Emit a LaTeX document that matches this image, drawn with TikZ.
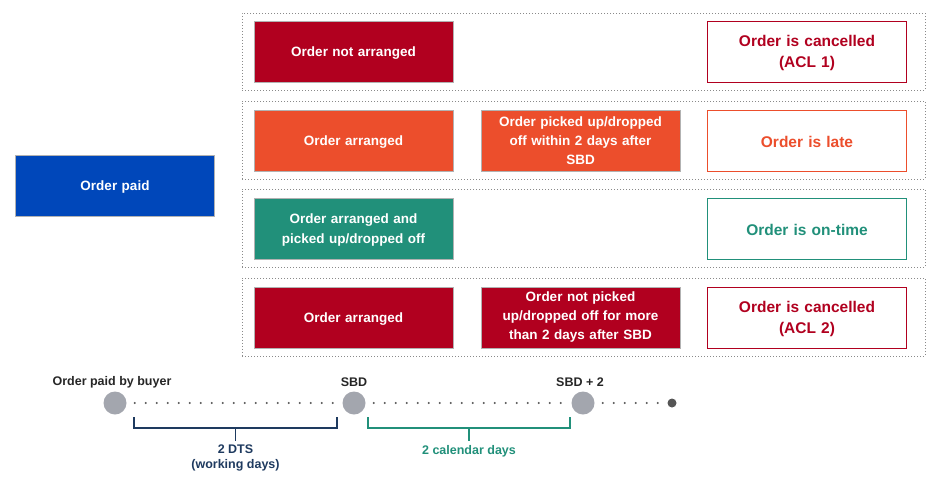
\documentclass[tikz,border=0pt]{standalone}
\usepackage{fontspec}
\setmainfont{Liberation Sans}
\definecolor{cred}{HTML}{B1001F}
\definecolor{corange}{HTML}{EC4E2C}
\definecolor{cteal}{HTML}{21907A}
\definecolor{cblue}{HTML}{0047BA}
\definecolor{cgray}{HTML}{A3A6AE}
\definecolor{cnavy}{HTML}{1E3A5F}
\definecolor{cdots}{HTML}{8A8A8A}
\definecolor{cdark}{HTML}{555555}
\tikzset{
  panel/.style={draw=cdots, line width=0.8pt, dash pattern=on 0.8pt off 2.2pt, minimum width=683pt, minimum height=78pt, inner sep=0pt},
  fbox/.style={fill=#1, draw=gray!60, line width=0.6pt, minimum width=199pt, minimum height=61pt, inner sep=0pt},
  obox/.style={fill=white, draw=#1, line width=1pt, minimum width=199pt, minimum height=61pt, inner sep=0pt},
  ftext/.style={text width=190pt, align=center, text=white, font=\bfseries\fontsize{13.5}{19.5}\selectfont, inner sep=0pt},
  otext/.style={text width=190pt, align=center, text=#1, font=\bfseries\fontsize{15.5}{21}\selectfont, inner sep=0pt},
  tcirc/.style={circle, fill=cgray, minimum size=23pt, inner sep=0pt},
  tlabel/.style={font=\bfseries\fontsize{12.5}{15}\selectfont, text=black!85, inner sep=0pt},
  dotline/.style={cdark, line width=2.3pt, line cap=round, dash pattern=on 0pt off 11pt},
}
\begin{document}
\begin{tikzpicture}[x=1pt, y=-1pt]
\useasboundingbox (0,0) rectangle (937,477);
% panels
\node[panel, minimum height=77pt] (p1) at (583.5,51.5) {};
\node[panel] (p2) at (583.5,140) {};
\node[panel] (p3) at (583.5,228) {};
\node[panel] (p4) at (583.5,317) {};
% order paid
\node[fbox=cblue] (paid) at (115,185.5) {};
\node[ftext] (paidt) at ([yshift=-1.5pt]paid.center) {Order paid};
% row 1
\node[fbox=cred] (r1a) at (353.5,51.5) {};
\node[ftext] (r1at) at ([yshift=-1.5pt]r1a.center) {Order not arranged};
\node[obox=cred] (r1c) at (807,51.5) {};
\node[otext=cred] (r1ct) at ([yshift=-1.5pt]r1c.center) {Order is cancelled\\(ACL 1)};
% row 2
\node[fbox=corange] (r2a) at (353.5,140.5) {};
\node[ftext] (r2at) at ([yshift=-1.5pt]r2a.center) {Order arranged};
\node[fbox=corange] (r2b) at (580.5,140.5) {};
\node[ftext, font=\bfseries\fontsize{13.5}{19}\selectfont] (r2bt) at (r2b.center) {Order picked up/dropped\\off within 2 days after\\SBD};
\node[obox=corange] (r2c) at (807,140.5) {};
\node[otext=corange] (r2ct) at ([yshift=-1.5pt]r2c.center) {Order is late};
% row 3
\node[fbox=cteal] (r3a) at (353.5,228.5) {};
\node[ftext] (r3at) at ([yshift=-1.5pt]r3a.center) {Order arranged and\\picked up/dropped off};
\node[obox=cteal] (r3c) at (807,228.5) {};
\node[otext=cteal] (r3ct) at ([yshift=-1.5pt]r3c.center) {Order is on-time};
% row 4
\node[fbox=cred] (r4a) at (353.5,317.5) {};
\node[ftext] (r4at) at ([yshift=-1.5pt]r4a.center) {Order arranged};
\node[fbox=cred] (r4b) at (580.5,317.5) {};
\node[ftext, font=\bfseries\fontsize{13.5}{19}\selectfont] (r4bt) at (r4b.center) {Order not picked\\up/dropped off for more\\than 2 days after SBD};
\node[obox=cred] (r4c) at (807,317.5) {};
\node[otext=cred] (r4ct) at ([yshift=-1.5pt]r4c.center) {Order is cancelled\\(ACL 2)};
% timeline
\node[tcirc] (t1) at (115,403) {};
\node[tcirc] (t2) at (354,403) {};
\node[tcirc] (t3) at (583,403) {};
\node[circle, fill=cdark, minimum size=9pt, inner sep=0pt] (t4) at (672,403) {};
\draw[dotline] ([xshift=8pt]t1.east) -- ([xshift=-6pt]t2.west);
\draw[dotline] ([xshift=8pt]t2.east) -- ([xshift=-6pt]t3.west);
\draw[dotline] ([xshift=8pt]t3.east) -- ([xshift=-6pt]t4.west);
\node[tlabel] (l1) at (112,382) {Order paid by buyer};
\node[tlabel] (l2) at (354,382) {SBD};
\node[tlabel] (l3) at (580,382) {SBD + 2};
% brackets
\coordinate (b1a) at (134,417); \coordinate (b1b) at (337,417);
\coordinate (b2a) at (368,417); \coordinate (b2b) at (570,417);
\draw[cnavy, line width=1.1pt] (b1a) -- ++(0,11) -| (b1b);
\draw[cnavy, line width=1.1pt] (235.5,428) -- (235.5,441) coordinate (b1m);
\draw[cteal, line width=1.1pt] (b2a) -- ++(0,11) -| (b2b);
\draw[cteal, line width=1.1pt] (469,428) -- (469,441) coordinate (b2m);
\node[tlabel, text=cnavy, align=center, anchor=north] (d1) at ([yshift=-3.5pt]b1m) {2 DTS\\(working days)};
\node[tlabel, text=cteal, anchor=north] (d2) at ([yshift=-4pt]b2m) {2 calendar days};
\end{tikzpicture}
\end{document}
